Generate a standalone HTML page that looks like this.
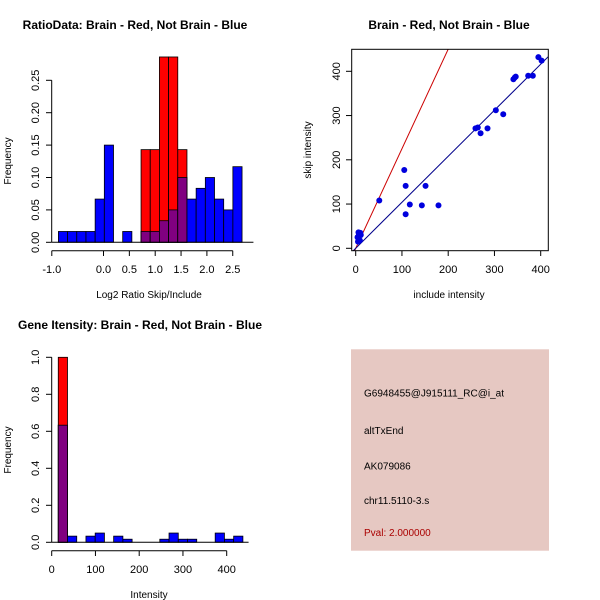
<!DOCTYPE html>
<html><head><meta charset="utf-8">
<style>
html,body{margin:0;padding:0;background:#fff;}
svg{display:block;font-family:"Liberation Sans",sans-serif;}
</style></head>
<body>
<svg id="c" width="600" height="600" viewBox="0 0 600 600"></svg>
<script>
// Panel 1: ratio histogram
const ratioBinStart = -0.872;
const ratioBinWidth = 0.1776;
const ratioBlue = [0.0167,0.0167,0.0167,0.0167,0.0667,0.15,0,0.0167,0,0.0167,0.0167,0.0333,0.05,0.1,0.0667,0.0833,0.1,0.0667,0.05,0.1167];
const ratioRed  = [0,0,0,0,0,0,0,0,0,0.143,0.143,0.286,0.286,0.143,0,0,0,0,0,0];
const ratioXTicks = [-1.0,0.0,0.5,1.0,1.5,2.0,2.5];
const ratioYTicks = [0,0.05,0.10,0.15,0.20,0.25];
// Panel 2: scatter
const includeVals = [395,402,373,383,341,344,346,303,319,259,264,270,285,105,108,151,117,143,179,108,51,5,6,8,10,7,9,4,11,6];
const skipVals    = [432,424,390,390,382,386,388,312,303,271,273,260,271,177,141,141,99,97,97,77,108,15,22,28,35,32,18,25,30,36];
const scatterXTicks = [0,100,200,300,400];
const scatterYTicks = [0,100,200,300,400];
const redSlope = 2.25, blueSlope = 1.04;
// Panel 3: intensity histogram
const intBinStart = 15;
const intBinWidth = 21.1;
const intBlue = [0.633,0.0333,0,0.0333,0.05,0,0.0333,0.0167,0,0,0,0.0167,0.05,0.0167,0.0167,0,0,0.05,0.0167,0.0333];
const intRed  = [1.0,0,0,0,0,0,0,0,0,0,0,0,0,0,0,0,0,0,0,0];
const intXTicks = [0,100,200,300,400];
const intYTicks = [0,0.2,0.4,0.6,0.8,1.0];

const svg = document.getElementById('c');
const NS = 'http://www.w3.org/2000/svg';
function mk(tag, attrs, parent){
  const e = document.createElementNS(NS, tag);
  for (const k in attrs) e.setAttribute(k, attrs[k]);
  (parent||svg).appendChild(e);
  return e;
}
function txt(x,y,s,size,opts,parent){
  const t = mk('text', Object.assign({x:x,y:y,'font-size':size,'text-anchor':'middle',fill:'#000'},opts||{}), parent);
  t.textContent = s;
  return t;
}

// ---------- Panel 1 ----------
const g1 = mk('g',{});


const x1 = v => 103.5 + v*51.7;
const y1 = v => 242.3 - v*648;
const t1 = txt(135,29,'RatioData: Brain - Red, Not Brain - Blue',12,{'font-weight':'bold'},g1);


for (let i=0;i<ratioBlue.length;i++){
  const a = x1(ratioBinStart+i*ratioBinWidth), b = x1(ratioBinStart+(i+1)*ratioBinWidth);
  const r = ratioRed[i], bl = ratioBlue[i];
  if (bl>0){
    const e = mk('rect',{x:a,y:y1(bl),width:b-a,height:y1(0)-y1(bl),fill:'#0000ff',stroke:'#000','stroke-width':0.8},g1);
    
    
  }
  if (r>0){
    const e = mk('rect',{x:a,y:y1(r),width:b-a,height:y1(0)-y1(r),fill:'#ff0000',stroke:'#000','stroke-width':0.8},g1);
    
    
    const m = Math.min(r,bl);
    if (m>0){
      const p = mk('rect',{x:a,y:y1(m),width:b-a,height:y1(0)-y1(m),fill:'#800080',stroke:'#000','stroke-width':0.8},g1);
      
      
    }
  }
}
mk('line',{x1:x1(-1),x2:x1(2.9),y1:242.3,y2:242.3,stroke:'#000'},g1);
mk('line',{x1:x1(-1),x2:x1(2.5),y1:250.7,y2:250.7,stroke:'#000'},g1);
ratioXTicks.forEach(v=>{
  mk('line',{x1:x1(v),x2:x1(v),y1:250.7,y2:256,stroke:'#000'},g1);
  const t = txt(x1(v),273,v.toFixed(1),11,{},g1);
  
  
});
mk('line',{x1:51.7,x2:51.7,y1:y1(0),y2:y1(0.25),stroke:'#000'},g1);
ratioYTicks.forEach(v=>{
  mk('line',{x1:46,x2:51.7,y1:y1(v),y2:y1(v),stroke:'#000'},g1);
  const t = txt(0,0,v.toFixed(2),11,{transform:`translate(39,${y1(v)}) rotate(-90)`},g1);
  
  
});
const xl1 = txt(149,298,'Log2 Ratio Skip/Include',10,{},g1);


const yl1 = txt(0,0,'Frequency',10,{transform:'translate(11,161) rotate(-90)'},g1);



// ---------- Panel 2 ----------
const g2 = mk('g',{});


const x2 = v => 355.7 + v*0.4625;
const y2 = v => 248.3 - v*0.4425;
const t2 = txt(449,29,'Brain - Red, Not Brain - Blue',12,{'font-weight':'bold'},g2);


const cp = mk('clipPath',{id:'cp2'},g2);
mk('rect',{x:351.7,y:49.3,width:196.6,height:201.4},cp);
const lr = mk('line',{x1:x2(-20),y1:y2(-20*redSlope),x2:x2(300),y2:y2(300*redSlope),stroke:'#cc0000','stroke-width':1,'clip-path':'url(#cp2)'},g2);


const lb = mk('line',{x1:x2(-20),y1:y2(-20*blueSlope),x2:x2(450),y2:y2(450*blueSlope),stroke:'#00008b','stroke-width':1,'clip-path':'url(#cp2)'},g2);


for (let i=0;i<includeVals.length;i++){
  const c = mk('circle',{cx:x2(includeVals[i]),cy:y2(skipVals[i]),r:3,fill:'#0000dd'},g2);
  
  
}
mk('rect',{x:351.7,y:49.3,width:196.6,height:201.4,fill:'none',stroke:'#000'},g2);
scatterXTicks.forEach(v=>{
  mk('line',{x1:x2(v),x2:x2(v),y1:250.7,y2:256,stroke:'#000'},g2);
  const t = txt(x2(v),273,String(v),11,{},g2);
  
  
});
scatterYTicks.forEach(v=>{
  mk('line',{x1:346,x2:351.7,y1:y2(v),y2:y2(v),stroke:'#000'},g2);
  const t = txt(0,0,String(v),11,{transform:`translate(340,${y2(v)}) rotate(-90)`},g2);
  
  
});
const xl2 = txt(449,298,'include intensity',10,{},g2);


const yl2 = txt(0,0,'skip intensity',10,{transform:'translate(311,150) rotate(-90)'},g2);



// ---------- Panel 3 ----------
const g3 = mk('g',{});


const x3 = v => 51.7 + v*0.4375;
const y3 = v => 542.3 - v*185;
const t3 = txt(140,329,'Gene Itensity: Brain - Red, Not Brain - Blue',12,{'font-weight':'bold'},g3);


for (let i=0;i<intBlue.length;i++){
  const a = x3(intBinStart+i*intBinWidth), b = x3(intBinStart+(i+1)*intBinWidth);
  const r = intRed[i], bl = intBlue[i];
  if (bl>0){
    const e = mk('rect',{x:a,y:y3(bl),width:b-a,height:y3(0)-y3(bl),fill:'#0000ff',stroke:'#000','stroke-width':0.8},g3);
    
    
  }
  if (r>0){
    const e = mk('rect',{x:a,y:y3(r),width:b-a,height:y3(0)-y3(r),fill:'#ff0000',stroke:'#000','stroke-width':0.8},g3);
    
    
    const m = Math.min(r,bl);
    if (m>0){
      const p = mk('rect',{x:a,y:y3(m),width:b-a,height:y3(0)-y3(m),fill:'#800080',stroke:'#000','stroke-width':0.8},g3);
      
      
    }
  }
}
mk('line',{x1:x3(0),x2:x3(450),y1:542.3,y2:542.3,stroke:'#000'},g3);
mk('line',{x1:x3(0),x2:x3(400),y1:550.7,y2:550.7,stroke:'#000'},g3);
intXTicks.forEach(v=>{
  mk('line',{x1:x3(v),x2:x3(v),y1:550.7,y2:556,stroke:'#000'},g3);
  const t = txt(x3(v),573,String(v),11,{},g3);
  
  
});
mk('line',{x1:51.7,x2:51.7,y1:y3(0),y2:y3(1),stroke:'#000'},g3);
intYTicks.forEach(v=>{
  mk('line',{x1:46,x2:51.7,y1:y3(v),y2:y3(v),stroke:'#000'},g3);
  const t = txt(0,0,v.toFixed(1),11,{transform:`translate(39,${y3(v)}) rotate(-90)`},g3);
  
  
});
const xl3 = txt(149,598,'Intensity',10,{},g3);


const yl3 = txt(0,0,'Frequency',10,{transform:'translate(11,450) rotate(-90)'},g3);


</script>
<svg style="position:absolute;left:0;top:0" width="600" height="600">
  <rect x="351" y="349.3" width="198" height="201.4" fill="#e6c8c2"/>
  <text x="364" y="396.5" font-size="10" fill="#000" font-family="Liberation Sans, sans-serif">G6948455@J915111_RC@i_at</text>
  <text x="364" y="434" font-size="10" fill="#000" font-family="Liberation Sans, sans-serif">altTxEnd</text>
  <text x="364" y="469.5" font-size="10" fill="#000" font-family="Liberation Sans, sans-serif">AK079086</text>
  <text x="364" y="504" font-size="10" fill="#000" font-family="Liberation Sans, sans-serif">chr11.5110-3.s</text>
  <text x="364" y="536" font-size="10" fill="#aa0000" font-family="Liberation Sans, sans-serif">Pval: 2.000000</text>
</svg>
</body></html>
